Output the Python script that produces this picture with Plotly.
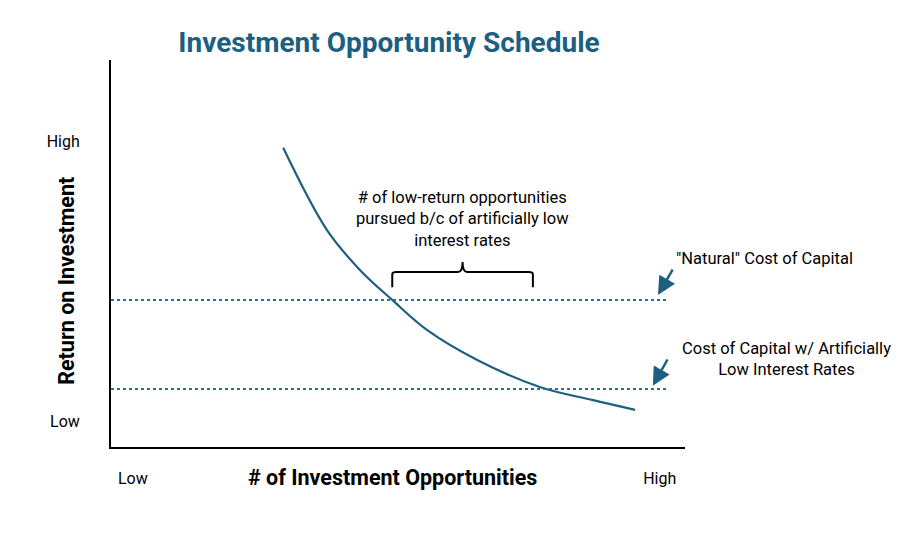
import plotly.graph_objects as go

# ---- data (conceptual units: 0..10 on both axes) ----
curve_x = [3.00, 3.76, 4.34, 4.90, 5.51, 6.38, 7.47, 8.40, 9.13]
curve_y = [7.73, 5.61, 4.57, 3.80, 3.02, 2.25, 1.55, 1.21, 0.96]

natural_rate = 3.80
low_rate = 1.50
rate_line_x = [0.0, 9.70]

brace_x = [4.90, 7.35]
brace_y = [4.13, 4.52, 4.78]  # bottom, shoulder, tip

x_tick_vals = [0.38, 9.56]
x_tick_text = ["Low", "High"]
y_tick_vals = [0.67, 7.90]
y_tick_text = ["Low", "High"]

title_text = "Investment Opportunity Schedule"
x_title = "# of Investment Opportunities"
y_title = "Return on Investment"
brace_label = "# of low-return opportunities<br>pursued b/c of artificially low<br>interest rates"
natural_label = "\"Natural\" Cost of Capital"
low_label = "Cost of Capital w/ Artificially<br>Low Interest Rates"

TEAL = "#1d5f80"
DOT = "#2b7191"
FONT = "Roboto"

fig = go.Figure()

fig.add_trace(go.Scatter(x=curve_x, y=curve_y, mode="lines",
                         line=dict(color=TEAL, width=2.2, shape="spline", smoothing=1.0),
                         hoverinfo="skip", showlegend=False))
for r in (natural_rate, low_rate):
    fig.add_trace(go.Scatter(x=rate_line_x, y=[r, r], mode="lines",
                             line=dict(color=DOT, width=2, dash="dot"),
                             hoverinfo="skip", showlegend=False))

# curly brace built from brace data
xl, xr = brace_x
xm = (xl + xr) / 2
yb, ys, yt = brace_y
path = (f"M {xl},{yb} L {xl},{ys-0.06} Q {xl},{ys} {xl+0.08},{ys} "
        f"L {xm-0.08},{ys} Q {xm},{ys} {xm},{yt} Q {xm},{ys} {xm+0.08},{ys} "
        f"L {xr-0.08},{ys} Q {xr},{ys} {xr},{ys-0.06} L {xr},{yb}")
fig.add_shape(type="path", path=path, xref="x", yref="y",
              line=dict(color="black", width=2))

TXT = dict(size=16.5, color="black", family=FONT)
annos = [
    dict(x=xm, y=5.89, xref="x", yref="y", text=brace_label, showarrow=False,
         font=TXT, align="center", xanchor="center", yanchor="middle"),
    dict(x=1.139, y=0.488, xref="paper", yref="paper", text=natural_label,
         showarrow=False, font=TXT, align="center", xanchor="center", yanchor="middle"),
    dict(x=1.176, y=0.227, xref="paper", yref="paper", text=low_label,
         showarrow=False, font=TXT, align="center", xanchor="center", yanchor="middle"),
    # arrows
    dict(x=9.53, y=natural_rate + 0.13, ax=9.80, ay=4.62, axref="x", ayref="y",
         xref="x", yref="y", text="", showarrow=True, arrowhead=2, arrowsize=1.45,
         arrowwidth=2.5, arrowcolor=TEAL),
    dict(x=9.44, y=low_rate + 0.08, ax=9.71, ay=2.30, axref="x", ayref="y",
         xref="x", yref="y", text="", showarrow=True, arrowhead=2, arrowsize=1.45,
         arrowwidth=2.5, arrowcolor=TEAL),
    # axis titles
    dict(x=0.49, y=-0.078, xref="paper", yref="paper", text=f"<b>{x_title}</b>",
         showarrow=False, font=dict(size=21.5, color="black", family=FONT),
         xanchor="center", yanchor="middle"),
    dict(x=-0.078, y=0.43, xref="paper", yref="paper", text=f"<b>{y_title}</b>",
         showarrow=False, textangle=-90,
         font=dict(size=21.5, color="black", family=FONT),
         xanchor="center", yanchor="middle"),
]
for a in annos:
    fig.add_annotation(**a)

fig.update_layout(
    width=915, height=540,
    margin=dict(l=111, r=230, t=60, b=93),
    paper_bgcolor="white", plot_bgcolor="white",
    title=dict(text=f"<b>{title_text}</b>", x=389/915, xanchor="center",
               xref="container", yref="container", y=1-42/540, yanchor="middle",
               font=dict(size=28, color=TEAL, family=FONT)),
    xaxis=dict(range=[0, 10], showgrid=False, zeroline=False, showline=True,
               linecolor="black", linewidth=2, tickvals=x_tick_vals, ticktext=x_tick_text,
               ticks="", ticklabelstandoff=16,
               tickfont=dict(size=16, color="black", family=FONT)),
    yaxis=dict(range=[0, 10], showgrid=False, zeroline=False, showline=True,
               linecolor="black", linewidth=2, tickvals=y_tick_vals, ticktext=y_tick_text,
               ticks="", ticklabelstandoff=26,
               tickfont=dict(size=16, color="black", family=FONT)),
)

fig.write_html("out.html")
